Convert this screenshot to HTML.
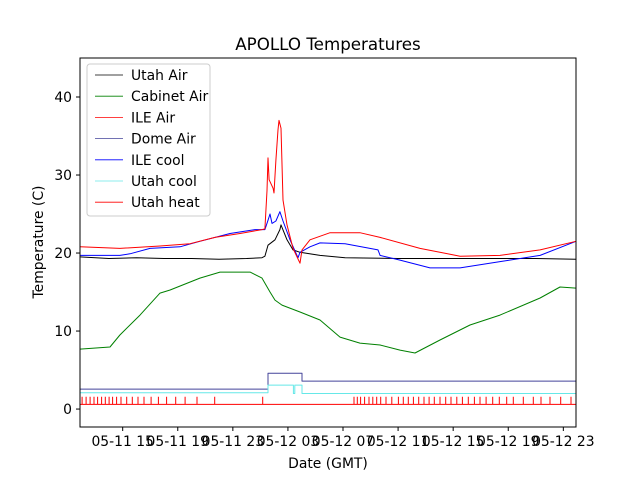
<!DOCTYPE html>
<html><head><meta charset="utf-8"><style>
body{margin:0;background:#fff;}
svg text{font-family:"DejaVu Sans","Liberation Sans",sans-serif;}
</style></head><body>
<svg id="chart" width="640" height="480" xmlns="http://www.w3.org/2000/svg">
<rect width="640" height="480" fill="#fff"/>
<text x="328" y="50" font-size="16.7" text-anchor="middle">APOLLO Temperatures</text>
<text x="328" y="468" font-size="13.9" text-anchor="middle">Date (GMT)</text>
<text x="0" y="0" font-size="13.9" text-anchor="middle" transform="translate(43,242) rotate(-90)">Temperature (C)</text>
<g id="marks"></g>
<g id="axes"></g>
</svg>
<script>
const xTickHours=[15,19,23,27,31,35,39,43,47];
const xTickLabels=["05-11 15","05-11 19","05-11 23","05-12 03","05-12 07","05-12 11","05-12 15","05-12 19","05-12 23"];
const yTicks=[0,10,20,30,40];
const seriesNames=["Utah Air","Cabinet Air","ILE Air","Dome Air","ILE cool","Utah cool","Utah heat"];
const seriesColors=["#000000","#008000","#ff0000","#44449a","#0000ff","#66e8e8","#ff0000"];
const utahAirHours=[11.9,14,16,18,20,22,24,25.12,25.33,25.55,26.06,26.42,26.5,26.93,27.37,27.88,29.33,31.15,35,40,45,47.92];
const utahAirVals=[19.5,19.3,19.4,19.3,19.3,19.2,19.3,19.4,19.6,21.0,21.7,23.0,23.6,21.7,20.4,20.1,19.7,19.4,19.3,19.3,19.3,19.2];
const cabinetHours=[11.9,14.08,14.8,16.26,17.71,18.44,20.61,22.07,24.25,25.12,25.7,26.06,26.57,27.88,29.33,30.78,32.23,33.69,35.14,36.23,38.04,40.22,42.4,45.31,46.76,47.92];
const cabinetVals=[7.69,7.95,9.49,12.05,14.87,15.26,16.79,17.56,17.56,16.79,15.0,13.97,13.33,12.44,11.41,9.23,8.46,8.21,7.56,7.18,8.85,10.77,12.05,14.23,15.64,15.51];
const ileAirHours=[11.9,14.8,17.71,19.89,21.7,23.52,25.12,25.33,25.48,25.55,25.63,25.92,25.99,26.13,26.28,26.35,26.5,26.64,26.93,27.37,27.88,28.02,28.6,30.06,32.23,33.69,36.59,39.5,42.4,45.31,47.92];
const ileAirVals=[20.8,20.6,20.9,21.2,22.0,22.5,23.0,23.1,28.0,32.2,29.4,28.3,27.7,31.9,35.8,37.0,36.0,26.8,23.6,20.6,18.7,20.4,21.7,22.6,22.6,22.0,20.6,19.6,19.7,20.4,21.5];
const ileCoolHours=[11.9,14.8,15.53,16.98,19.16,20.61,22.79,24.61,25.33,25.55,25.7,25.84,26.13,26.42,26.64,27.15,27.73,27.88,28.6,29.33,31.15,33.54,33.69,35.14,37.32,39.5,42.4,45.31,47.92];
const ileCoolVals=[19.7,19.7,19.9,20.6,20.8,21.5,22.5,23.0,23.0,24.2,25.0,23.8,24.1,25.3,24.1,21.7,19.4,20.1,20.8,21.3,21.2,20.4,19.7,19.1,18.1,18.1,18.9,19.7,21.5];
const domeHours=[11.9,25.55,25.55,28.02,28.02,47.92];
const domeVals=[2.56,2.56,4.58,4.58,3.59,3.59];
const utahCoolHours=[11.9,25.55,25.55,27.4,27.4,27.5,27.5,28.02,28.02,47.92];
const utahCoolVals=[2.1,2.1,3.07,3.07,2.0,2.0,3.07,3.07,2.0,2.0];
const heatBase=0.6, heatOn=1.58;
const heatPulseHours=[12.05,12.34,12.63,12.92,13.18,13.47,13.74,14.01,14.27,14.56,14.88,15.29,15.70,16.11,16.55,17.06,17.59,18.19,18.85,19.53,20.40,21.68,25.17,31.80,32.04,32.28,32.57,32.89,33.16,33.45,33.74,34.12,34.54,35.02,35.38,35.74,36.11,36.50,36.88,37.25,37.63,38.04,38.46,38.84,39.26,39.67,40.10,40.54,40.95,41.39,41.87,42.35,42.89,43.37,44.09,44.82,45.38,46.03,46.81,47.56];

const L=80,R=576,T=58,B=427, X0=11.9,X1=47.92,Y0=-2.3,Y1=45;
const sx=h=>L+(h-X0)/(X1-X0)*(R-L);
const sy=v=>B-(v-Y0)/(Y1-Y0)*(B-T);
const NS="http://www.w3.org/2000/svg";
const marks=document.getElementById('marks'), axes=document.getElementById('axes');
function mk(tag,parent,attrs){const e=document.createElementNS(NS,tag);for(const k in attrs)e.setAttribute(k,attrs[k]);parent.appendChild(e);return e;}
function line(hours,vals,color,name){
  const d=hours.map((h,i)=>(i?'L':'M')+sx(h).toFixed(1)+','+sy(vals[i]).toFixed(1)).join('');
  const p=mk('path',marks,{d:d,fill:'none',stroke:color,'stroke-width':1,'stroke-linejoin':'round'});
  
  
}
line(domeHours,domeVals,seriesColors[3],'dome-air-line');
line(utahCoolHours,utahCoolVals,seriesColors[5],'utah-cool-line');
{
  let d='M'+sx(X0)+','+sy(heatBase).toFixed(1)+'L'+sx(X1)+','+sy(heatBase).toFixed(1);
  heatPulseHours.forEach(h=>{d+='M'+sx(h).toFixed(1)+','+sy(heatBase).toFixed(1)+'L'+sx(h).toFixed(1)+','+sy(heatOn).toFixed(1);});
  const p=mk('path',marks,{d:d,fill:'none',stroke:seriesColors[6],'stroke-width':1});
  
  
}
line(cabinetHours,cabinetVals,seriesColors[1],'cabinet-air-line');
line(utahAirHours,utahAirVals,seriesColors[0],'utah-air-line');
line(ileCoolHours,ileCoolVals,seriesColors[4],'ile-cool-line');
line(ileAirHours,ileAirVals,seriesColors[2],'ile-air-line');

const frame=mk('rect',axes,{x:L,y:T,width:R-L,height:B-T,fill:'none',stroke:'#000','stroke-width':1});


xTickHours.forEach((h,i)=>{
  const x=sx(h);
  mk('line',axes,{x1:x,x2:x,y1:B,y2:B+4,stroke:'#000'});
  const t=mk('text',axes,{x:x,y:B+19,'font-size':13.9,'text-anchor':'middle'});
  t.textContent=xTickLabels[i];
  
  
});
yTicks.forEach(v=>{
  const y=sy(v);
  mk('line',axes,{x1:L-4,x2:L,y1:y,y2:y,stroke:'#000'});
  const t=mk('text',axes,{x:L-8,y:y+5,'font-size':13.9,'text-anchor':'end'});
  t.textContent=v;
  
  
});
const lg=mk('g',axes,{});


mk('rect',lg,{x:87,y:64,width:123,height:152,rx:3,fill:'#fff','fill-opacity':0.8,stroke:'#ccc'});
seriesNames.forEach((n,i)=>{
  const y=75+i*21.2;
  const g=mk('g',lg,{});
  
  
  mk('line',g,{x1:95,x2:123,y1:y,y2:y,stroke:seriesColors[i],'stroke-width':0.8});
  const t=mk('text',g,{x:131,y:y+5,'font-size':13.9});
  t.textContent=n;
});
</script>
</body></html>
